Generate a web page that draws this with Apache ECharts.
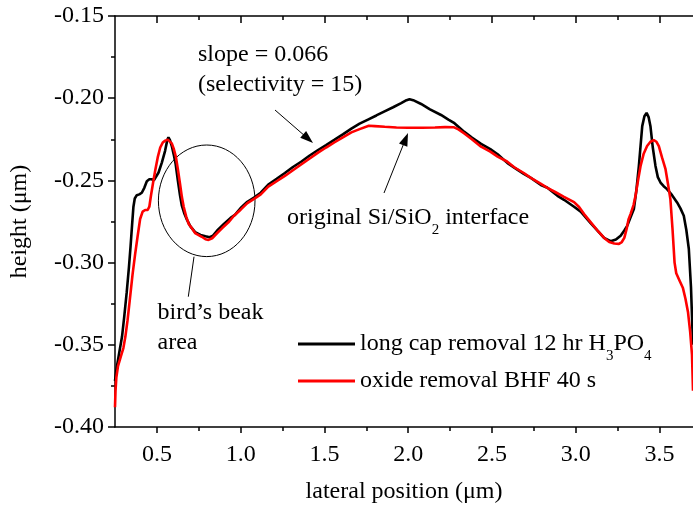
<!DOCTYPE html>
<html>
<head>
<meta charset="utf-8">
<script src="https://cdn.jsdelivr.net/npm/echarts@6/dist/echarts.min.js"></script>
<style>
  html, body { margin: 0; padding: 0; background: #fff; }
  #chart { width: 693px; height: 509px; }
</style>
</head>
<body>
<div id="chart"></div>
<script>
// Surface profiles across the bird's beak region: [lateral position (µm), height (µm)]
const capRemovalProfile = [
  [0.250,-0.372],[0.260,-0.364],[0.275,-0.355],[0.292,-0.345],[0.305,-0.333],[0.320,-0.318],
  [0.333,-0.303],[0.343,-0.290],[0.352,-0.277],[0.360,-0.266],[0.368,-0.261],[0.380,-0.259],
  [0.395,-0.2585],[0.410,-0.2575],[0.425,-0.2545],[0.440,-0.2505],[0.455,-0.2493],[0.470,-0.2493],
  [0.482,-0.2500],[0.492,-0.2495],[0.510,-0.2452],[0.530,-0.2390],[0.549,-0.2320],[0.562,-0.2255],
  [0.569,-0.2238],[0.578,-0.2255],[0.589,-0.2291],[0.600,-0.2340],[0.612,-0.2400],[0.625,-0.2500],
  [0.638,-0.2590],[0.649,-0.2654],[0.665,-0.2705],[0.680,-0.2740],[0.700,-0.2780],[0.728,-0.2815],
  [0.760,-0.2832],[0.790,-0.2840],[0.815,-0.2846],[0.835,-0.2836],[0.860,-0.2805],[0.900,-0.2765],
  [0.940,-0.2728],[0.966,-0.2710],[1.000,-0.2668],[1.040,-0.2630],[1.080,-0.2605],[1.120,-0.2575],
  [1.165,-0.2525],[1.215,-0.2490],[1.264,-0.2455],[1.310,-0.2420],[1.363,-0.2385],[1.410,-0.2350],
  [1.462,-0.2315],[1.510,-0.2285],[1.561,-0.2252],[1.610,-0.2220],[1.661,-0.2185],[1.710,-0.2155],
  [1.760,-0.2130],[1.810,-0.2105],[1.859,-0.2080],[1.910,-0.2055],[1.958,-0.2030],[1.990,-0.2012],
  [2.008,-0.2006],[2.030,-0.2012],[2.077,-0.2035],[2.130,-0.2068],[2.196,-0.2102],[2.240,-0.2130],
  [2.276,-0.2152],[2.335,-0.2205],[2.380,-0.2240],[2.435,-0.2278],[2.490,-0.2310],[2.534,-0.2341],
  [2.593,-0.2395],[2.633,-0.2422],[2.690,-0.2460],[2.732,-0.2485],[2.792,-0.2528],[2.831,-0.2545],
  [2.891,-0.2594],[2.930,-0.2618],[2.990,-0.2660],[3.030,-0.2690],[3.089,-0.2760],[3.130,-0.2805],
  [3.169,-0.2850],[3.208,-0.2870],[3.240,-0.2860],[3.268,-0.2836],[3.290,-0.2805],[3.308,-0.2775],
  [3.325,-0.2730],[3.347,-0.2674],[3.362,-0.2560],[3.377,-0.2412],[3.387,-0.2290],[3.397,-0.2170],
  [3.410,-0.2110],[3.423,-0.2089],[3.435,-0.2115],[3.446,-0.2170],[3.460,-0.2300],[3.476,-0.2412],
  [3.490,-0.2480],[3.506,-0.2513],[3.525,-0.2535],[3.545,-0.2553],[3.575,-0.2590],[3.605,-0.2634],
  [3.625,-0.2670],[3.645,-0.2715],[3.660,-0.2800],[3.675,-0.2916],[3.688,-0.3150],[3.700,-0.3500]
];

const oxideRemovalProfile = [
  [0.250,-0.388],[0.253,-0.378],[0.258,-0.370],[0.268,-0.363],[0.285,-0.357],[0.300,-0.352],
  [0.312,-0.345],[0.325,-0.335],[0.339,-0.322],[0.355,-0.307],[0.370,-0.295],[0.385,-0.284],
  [0.400,-0.2735],[0.415,-0.2690],[0.430,-0.2680],[0.445,-0.2680],[0.455,-0.2660],[0.465,-0.2590],
  [0.478,-0.2510],[0.490,-0.2440],[0.505,-0.2360],[0.520,-0.2300],[0.535,-0.2270],[0.550,-0.2258],
  [0.565,-0.2252],[0.575,-0.2255],[0.589,-0.2275],[0.600,-0.2305],[0.613,-0.2355],[0.625,-0.2430],
  [0.638,-0.2520],[0.649,-0.2600],[0.660,-0.2660],[0.675,-0.2720],[0.690,-0.2765],[0.708,-0.2790],
  [0.728,-0.2820],[0.768,-0.2843],[0.790,-0.2858],[0.808,-0.2862],[0.830,-0.2852],[0.860,-0.2820],
  [0.890,-0.2790],[0.927,-0.2755],[0.960,-0.2715],[1.000,-0.2678],[1.040,-0.2638],[1.080,-0.2612],
  [1.120,-0.2585],[1.165,-0.2538],[1.215,-0.2505],[1.264,-0.2473],[1.310,-0.2440],[1.363,-0.2402],
  [1.410,-0.2368],[1.462,-0.2331],[1.510,-0.2300],[1.561,-0.2268],[1.610,-0.2238],[1.661,-0.2208],
  [1.710,-0.2188],[1.765,-0.2168],[1.800,-0.2170],[1.860,-0.2174],[1.930,-0.2178],[2.000,-0.2180],
  [2.080,-0.2180],[2.160,-0.2178],[2.220,-0.2176],[2.274,-0.2177],[2.300,-0.2190],[2.335,-0.2215],
  [2.380,-0.2250],[2.435,-0.2295],[2.490,-0.2325],[2.534,-0.2355],[2.590,-0.2385],[2.633,-0.2420],
  [2.690,-0.2455],[2.732,-0.2485],[2.790,-0.2520],[2.831,-0.2545],[2.880,-0.2572],[2.930,-0.2600],
  [2.990,-0.2632],[3.020,-0.2662],[3.050,-0.2705],[3.090,-0.2755],[3.130,-0.2805],[3.170,-0.2850],
  [3.200,-0.2875],[3.230,-0.2884],[3.258,-0.2886],[3.275,-0.2875],[3.290,-0.2850],[3.305,-0.2790],
  [3.315,-0.2738],[3.327,-0.2705],[3.345,-0.2650],[3.357,-0.2594],[3.372,-0.2500],[3.387,-0.2412],
  [3.405,-0.2340],[3.426,-0.2291],[3.446,-0.2265],[3.466,-0.2255],[3.482,-0.2265],[3.496,-0.2291],
  [3.515,-0.2360],[3.536,-0.2432],[3.552,-0.2530],[3.565,-0.2614],[3.578,-0.2800],[3.590,-0.3000],
  [3.600,-0.3065],[3.620,-0.3110],[3.640,-0.3155],[3.655,-0.3220],[3.670,-0.3300],[3.683,-0.3420],
  [3.694,-0.3560],[3.700,-0.3780]
];

const seriesNames = ['long cap removal 12 hr H3PO4', 'oxide removal BHF 40 s'];
const legendRich = {
  'long cap removal 12 hr H3PO4': '{m|long cap removal 12 hr H}{s|3}{m|PO}{s|4}',
  'oxide removal BHF 40 s': '{m|oxide removal BHF 40 s}'
};

const xRange = [0.25, 3.7];
const yRange = [-0.40, -0.15];
const xMajorTicks = [0.5, 1.0, 1.5, 2.0, 2.5, 3.0, 3.5];
const xMinorTicks = [0.75, 1.25, 1.75, 2.25, 2.75, 3.25];
const yTickStep = 0.05;

const FONT = '"Liberation Serif", "Times New Roman", serif';
const richStyles = {
  m: { fontFamily: FONT, fontSize: 24, lineHeight: 40, color: '#000' },
  s: { fontFamily: FONT, fontSize: 15, lineHeight: 15, verticalAlign: 'bottom', color: '#000' }
};

const chart = echarts.init(document.getElementById('chart'), null, { renderer: 'canvas' });

const axisLineStyle = { color: '#000', width: 1.5 };

function tickAxis(position, values, length, inside, withLine, withLabels) {
  return {
    type: 'value',
    position: position,
    min: xRange[0],
    max: xRange[1],
    axisLine: { show: withLine, onZero: false, lineStyle: axisLineStyle },
    axisTick: { show: true, inside: inside, length: length, customValues: values, lineStyle: axisLineStyle },
    axisLabel: withLabels
      ? { show: true, customValues: values, margin: 16, color: '#000', fontFamily: FONT, fontSize: 24,
          formatter: v => v.toFixed(1) }
      : { show: false },
    splitLine: { show: false }
  };
}

const mainX = tickAxis('bottom', xMajorTicks, 6, false, true, true);
mainX.name = 'lateral position (\u03bcm)';
mainX.nameLocation = 'middle';
mainX.nameGap = 53;
mainX.nameTextStyle = { color: '#000', fontFamily: FONT, fontSize: 24 };

// Arrow built from a shaft and a filled head
function arrow(x1, y1, x2, y2) {
  const dx = x2 - x1, dy = y2 - y1;
  const len = Math.hypot(dx, dy);
  const ux = dx / len, uy = dy / len;
  const hl = 13, hw = 4.5;
  const bx = x2 - ux * hl, by = y2 - uy * hl;
  return {
    type: 'group',
    children: [
      { type: 'line', shape: { x1: x1, y1: y1, x2: bx + ux * 2, y2: by + uy * 2 },
        style: { stroke: '#000', lineWidth: 1 } },
      { type: 'polygon',
        shape: { points: [[x2, y2], [bx - uy * hw, by + ux * hw], [bx + uy * hw, by - ux * hw]] },
        style: { fill: '#000' } }
    ]
  };
}

function label(x, y, text) {
  return {
    type: 'text', x: x, y: y,
    style: { text: text, fill: '#000', font: '24px ' + FONT, align: 'left', verticalAlign: 'middle', rich: richStyles }
  };
}

chart.setOption({
  animation: false,
  backgroundColor: '#fff',
  grid: { left: 112.5, right: 0, top: 16, bottom: 80, containLabel: false },
  xAxis: [
    mainX,
    tickAxis('bottom', xMinorTicks, 4, false, false, false),
    tickAxis('top', xMajorTicks, 7, true, true, false),
    tickAxis('top', xMinorTicks, 4, true, false, false)
  ],
  yAxis: {
    type: 'value',
    min: yRange[0],
    max: yRange[1],
    interval: yTickStep,
    name: 'height (\u03bcm)',
    nameLocation: 'middle',
    nameGap: 83,
    nameTextStyle: { color: '#000', fontFamily: FONT, fontSize: 24 },
    axisLine: { show: true, onZero: false, lineStyle: axisLineStyle },
    axisTick: { show: true, inside: false, length: 7, lineStyle: axisLineStyle },
    minorTick: { show: true, splitNumber: 2, length: 4, lineStyle: axisLineStyle },
    axisLabel: { color: '#000', fontFamily: FONT, fontSize: 24, margin: 11, formatter: v => v.toFixed(2) },
    splitLine: { show: false }
  },
  legend: {
    orient: 'vertical',
    left: 293,
    top: 327,
    icon: 'rect',
    itemWidth: 57,
    itemHeight: 3,
    itemGap: 5,
    data: seriesNames,
    formatter: name => legendRich[name],
    textStyle: { rich: richStyles }
  },
  series: [
    {
      name: seriesNames[0],
      type: 'line',
      data: capRemovalProfile,
      symbol: 'none',
      showSymbol: false,
      lineStyle: { color: '#000', width: 2.6 },
      itemStyle: { color: '#000' },
      z: 2
    },
    {
      name: seriesNames[1],
      type: 'line',
      data: oxideRemovalProfile,
      symbol: 'none',
      showSymbol: false,
      lineStyle: { color: '#ff0000', width: 2.6 },
      itemStyle: { color: '#ff0000' },
      z: 3
    }
  ],
  graphic: [
    label(198, 55, 'slope = 0.066'),
    label(198, 85, '(selectivity = 15)'),
    arrow(275, 110, 313, 143),
    label(287, 218, '{m|original Si/SiO}{s|2}{m| interface}'),
    arrow(384, 193, 408, 133),
    { type: 'ellipse', shape: { cx: 206.7, cy: 200.8, rx: 48.3, ry: 55.8 },
      style: { fill: 'none', stroke: '#000', lineWidth: 1 } },
    { type: 'line', shape: { x1: 194, y1: 256.7, x2: 188.3, y2: 296.7 },
      style: { stroke: '#000', lineWidth: 1 } },
    label(157.5, 313, "bird\u2019s beak"),
    label(157.5, 343, 'area')
  ]
});
</script>
</body>
</html>
